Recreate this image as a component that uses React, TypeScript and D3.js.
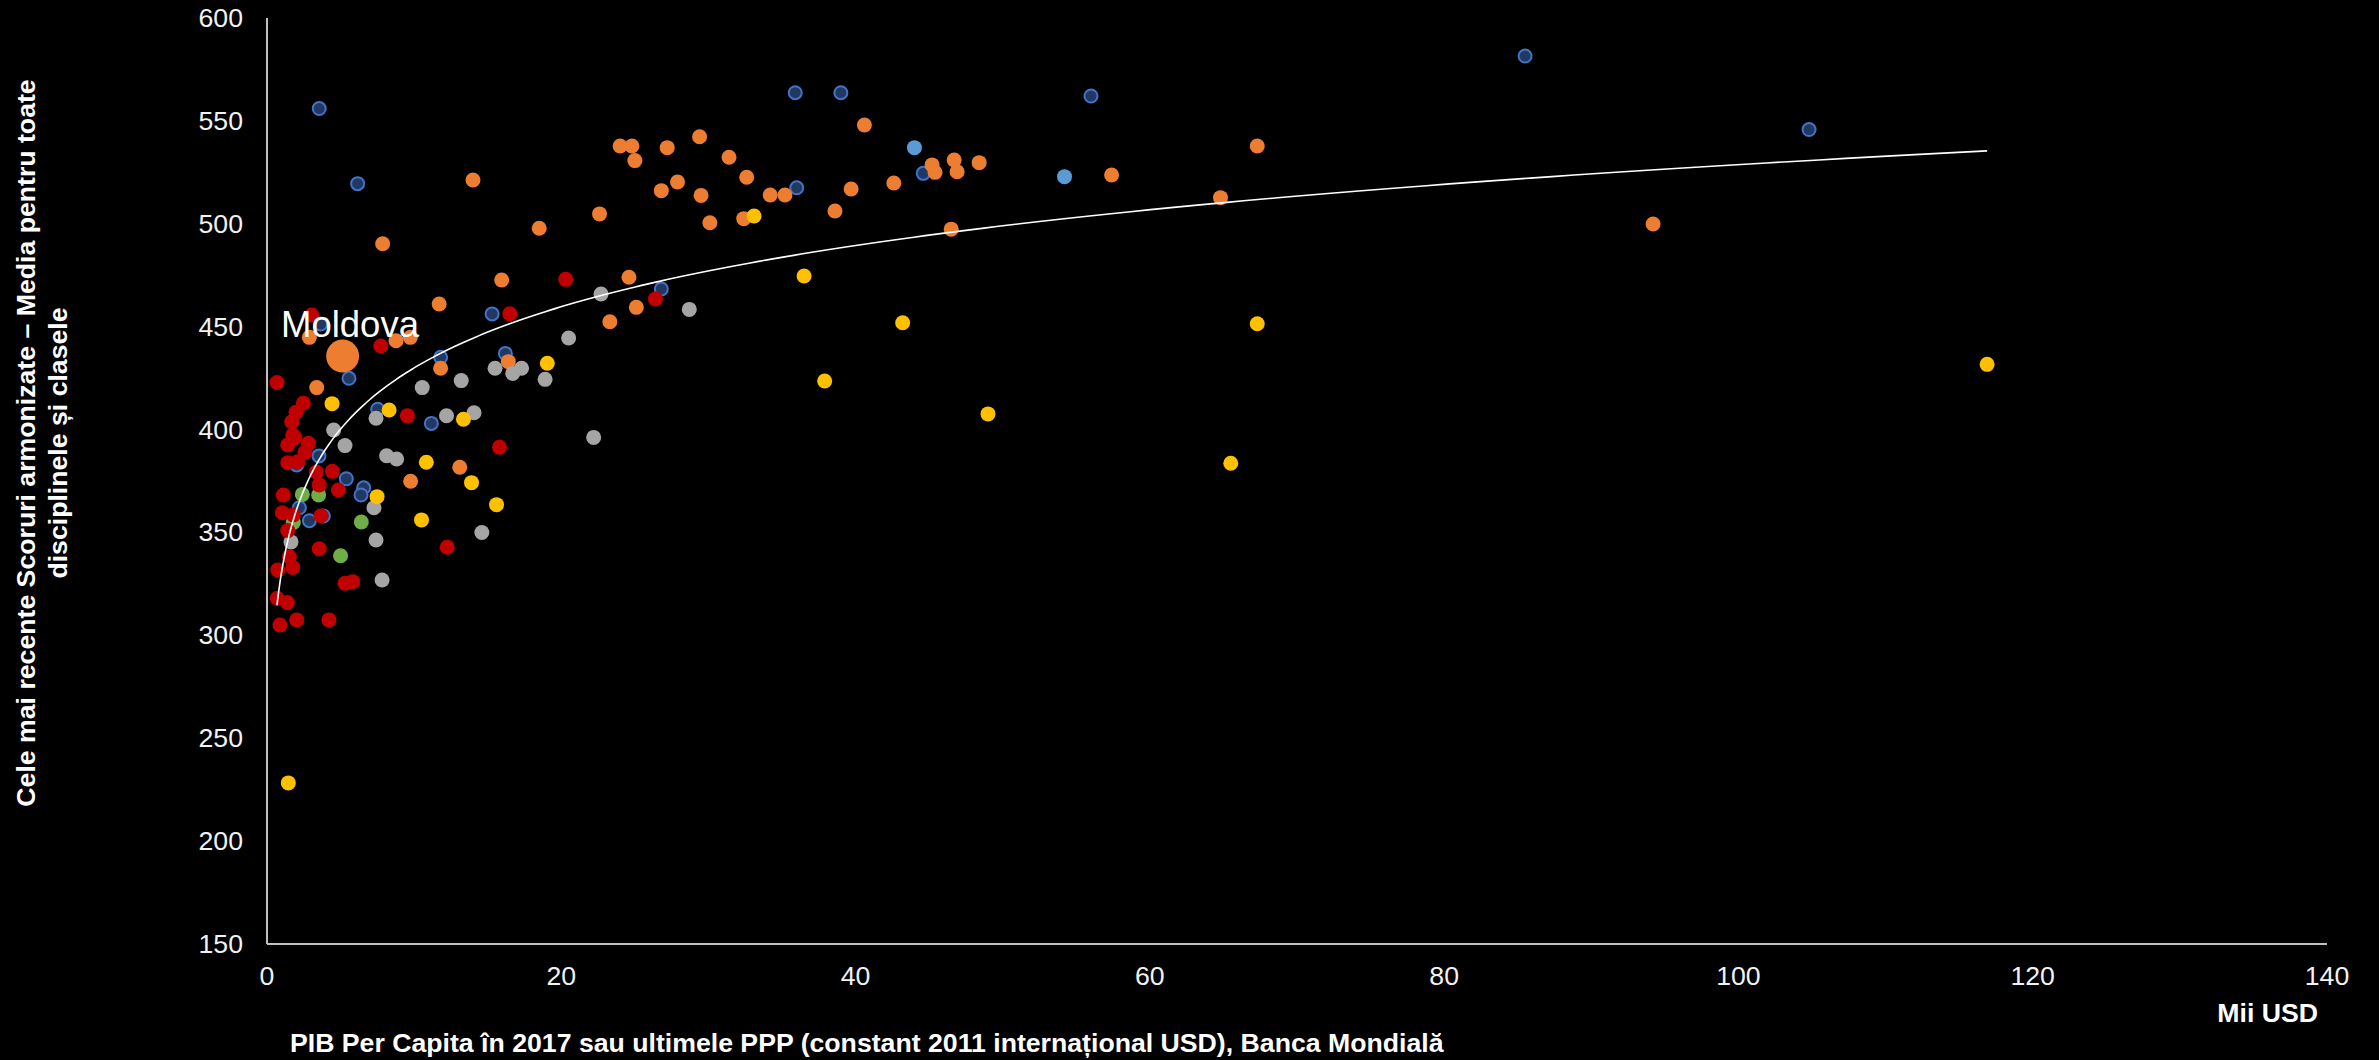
import React from "react";
import * as d3 from "d3";

type P = [number, number];

// GDP per capita (thousand USD, PPP) and harmonised score, per regional group
const navyPts: P[] = [
  [85.5, 581.5], [104.8, 545.8], [3.55, 556], [35.9, 563.7], [39.0, 563.7], [56.0, 562.1],
  [44.6, 524.5], [36.0, 517.5], [26.8, 468.3], [6.16, 519.5], [15.3, 456.2], [3.65, 451.3],
  [5.57, 424.9], [11.8, 435.1], [16.2, 437.0], [2.02, 382.8], [3.53, 387.2], [7.52, 409.9],
  [11.17, 403.0], [5.39, 376.1], [6.57, 371.7], [6.39, 368.2], [2.2, 362.0], [2.88, 355.7],
  [3.83, 358.0],
];
const lightBluePts: P[] = [[44.0, 537.0], [54.2, 522.9]];
const orangePts: P[] = [
  [45.2, 528.6], [45.4, 525.0], [46.7, 531.0], [46.9, 525.3], [48.4, 529.7], [57.4, 523.7],
  [46.5, 497.4], [64.8, 512.7], [67.3, 537.8], [94.2, 499.9], [18.5, 497.8], [22.6, 504.8],
  [24.0, 537.8], [24.8, 537.8], [25.0, 530.7], [27.2, 537.0], [29.4, 542.3], [26.8, 516.1],
  [27.9, 520.3], [29.5, 513.8], [31.4, 532.3], [32.6, 522.6], [30.1, 500.5], [32.4, 502.5],
  [34.2, 514.0], [35.2, 514.0], [40.6, 548.0], [39.7, 516.9], [38.6, 506.2], [42.6, 519.8],
  [15.95, 472.7], [24.6, 474.0], [25.1, 459.4], [23.3, 452.4], [16.4, 433.0], [14.0, 521.3],
  [7.86, 490.3], [11.7, 461.0], [2.88, 444.8], [8.77, 443.2], [9.74, 444.8], [3.38, 420.4],
  [11.8, 429.8], [13.1, 381.7], [9.76, 374.9],
];
const grayPts: P[] = [
  [22.7, 465.9], [28.7, 458.4], [20.5, 444.5], [15.5, 429.8], [16.7, 427.3], [17.3, 429.8],
  [18.9, 424.4], [22.2, 396.2], [10.55, 420.4], [13.2, 423.8], [4.53, 399.8], [5.3, 392.2],
  [7.41, 405.5], [12.2, 406.7], [14.07, 408.2], [8.13, 387.3], [8.81, 385.7], [7.27, 362.0],
  [1.63, 345.4], [7.41, 346.3], [7.82, 326.9], [14.6, 350.0],
];
const greenPts: P[] = [[2.4, 368.5], [3.51, 368.2], [1.79, 354.8], [6.41, 355.1], [5.0, 338.7]];
const redPts: P[] = [
  [20.3, 473.0], [26.4, 463.5], [16.5, 456.3], [3.04, 455.7], [7.73, 440.6], [0.68, 422.9],
  [2.47, 412.8], [1.97, 408.4], [1.68, 403.8], [1.75, 397.3], [1.9, 396.0], [1.41, 392.5],
  [2.81, 393.3], [2.58, 388.9], [1.41, 383.9], [2.09, 384.4], [9.54, 406.7], [15.8, 391.4],
  [3.35, 379.4], [4.44, 379.7], [3.55, 373.1], [4.85, 370.6], [1.11, 368.2], [1.04, 359.6],
  [1.79, 358.5], [3.67, 358.1], [1.41, 350.9], [3.55, 342.1], [1.52, 338.2], [1.75, 333.0],
  [0.73, 331.8], [5.3, 325.3], [5.82, 326.1], [0.70, 318.0], [1.38, 315.9], [0.88, 305.0],
  [2.02, 307.5], [4.21, 307.5], [12.25, 342.8],
];
const yellowPts: P[] = [
  [36.5, 474.6], [43.2, 451.9], [37.9, 423.6], [49.0, 407.6], [67.3, 451.4], [65.5, 383.6],
  [116.9, 431.7], [33.1, 503.8], [19.05, 432.2], [4.42, 412.6], [8.3, 409.5], [13.35, 405.0],
  [10.83, 384.1], [13.9, 374.2], [7.48, 367.4], [15.6, 363.5], [10.5, 356.1], [1.45, 228.3],
];
const moldova: P = [5.14, 435.7];
const moldovaLabel = "Moldova";

const xTicks = [0, 20, 40, 60, 80, 100, 120, 140];
const yTicks = [150, 200, 250, 300, 350, 400, 450, 500, 550, 600];

const yTitle1 = "Cele mai recente Scoruri armonizate – Media pentru toate";
const yTitle2 = "disciplinele și clasele";
const xTitle = "PIB Per Capita în 2017 sau ultimele PPP (constant 2011 internațional USD), Banca Mondială";
const xUnit = "Mii USD";

const W = 2379;
const H = 1060;
const FONT = "'Liberation Sans', Arial, Helvetica, sans-serif";

export default function App() {
  const x = d3.scaleLinear().domain([0, 140]).range([267, 2327]);
  const y = d3.scaleLinear().domain([150, 600]).range([944, 18]);

  const series = [
    { pts: navyPts, fill: "#203864", stroke: "#4472c4", r: 6.5, sw: 2 },
    { pts: lightBluePts, fill: "#5b9bd5", stroke: "none", r: 7.5, sw: 0 },
    { pts: orangePts, fill: "#ed7d31", stroke: "none", r: 7.5, sw: 0 },
    { pts: grayPts, fill: "#a5a5a5", stroke: "none", r: 7.5, sw: 0 },
    { pts: greenPts, fill: "#70ad47", stroke: "none", r: 7.5, sw: 0 },
    { pts: redPts, fill: "#c00000", stroke: "none", r: 7.5, sw: 0 },
    { pts: yellowPts, fill: "#ffc000", stroke: "none", r: 7.5, sw: 0 },
  ];

  // logarithmic trendline fitted on all points
  const all: P[] = [
    ...navyPts, ...lightBluePts, ...orangePts, ...grayPts, ...greenPts, ...redPts, ...yellowPts, moldova,
  ];
  const lx = all.map((p) => Math.log(p[0]));
  const ly = all.map((p) => p[1]);
  const mx = d3.mean(lx)!;
  const my = d3.mean(ly)!;
  let sxy = 0, sxx = 0;
  lx.forEach((v, i) => { sxy += (v - mx) * (ly[i] - my); sxx += (v - mx) * (v - mx); });
  const b = sxy / sxx;
  const a = my - b * mx;
  const [xmin, xmax] = d3.extent(all, (p) => p[0]) as [number, number];
  const trendPts: P[] = d3.range(0, 301).map((i) => {
    const xv = Math.exp(Math.log(xmin) + (Math.log(xmax) - Math.log(xmin)) * (i / 300));
    return [xv, a + b * Math.log(xv)];
  });
  const line = d3.line<P>().x((p) => x(p[0])).y((p) => y(p[1])).curve(d3.curveLinear);

  return (
    <svg
      width={W}
      height={H}
      style={{ position: "absolute", left: 0, top: 0, display: "block", background: "#000" }}
      fontFamily={FONT}
    >
      <rect x={0} y={0} width={W} height={H} fill="#000" />
      {/* axes */}
      <line x1={x(0)} x2={x(0)} y1={y(600)} y2={y(150)} stroke="#bfbfbf" strokeWidth={2} />
      <line x1={x(0)} x2={x(140)} y1={y(150)} y2={y(150)} stroke="#bfbfbf" strokeWidth={2} />
      {yTicks.map((t) => (
        <text key={"y" + t} x={243} y={y(t)} textAnchor="end" dominantBaseline="central" fill="#f2f2f2" fontSize={26.67}>
          {t}
        </text>
      ))}
      {xTicks.map((t) => (
        <text key={"x" + t} x={x(t)} y={976} textAnchor="middle" dominantBaseline="central" fill="#f2f2f2" fontSize={26.67}>
          {t}
        </text>
      ))}
      {/* dots */}
      {series.map((s, si) => (
        <g key={si}>
          {s.pts.map((p, i) => (
            <circle key={i} cx={x(p[0])} cy={y(p[1])} r={s.r} fill={s.fill} stroke={s.stroke} strokeWidth={s.sw} />
          ))}
        </g>
      ))}
      {/* trendline */}
      <path d={line(trendPts) || ""} fill="none" stroke="#ffffff" strokeWidth={1.6} />
      {/* Moldova */}
      <circle cx={x(moldova[0])} cy={y(moldova[1])} r={16.5} fill="#ed7d31" />
      <text x={281} y={337} fill="#ffffff" fontSize={36.5}>{moldovaLabel}</text>
      {/* titles */}
      <text transform="translate(35,443) rotate(-90)" textAnchor="middle" fill="#ffffff" fontSize={26.67} fontWeight="bold">
        {yTitle1}
      </text>
      <text transform="translate(66.7,443) rotate(-90)" textAnchor="middle" fill="#ffffff" fontSize={26.67} fontWeight="bold">
        {yTitle2}
      </text>
      <text x={290} y={1052} fill="#ffffff" fontSize={26.67} fontWeight="bold">{xTitle}</text>
      <text x={2318} y={1022} textAnchor="end" fill="#ffffff" fontSize={26.67} fontWeight="bold">{xUnit}</text>
    </svg>
  );
}
